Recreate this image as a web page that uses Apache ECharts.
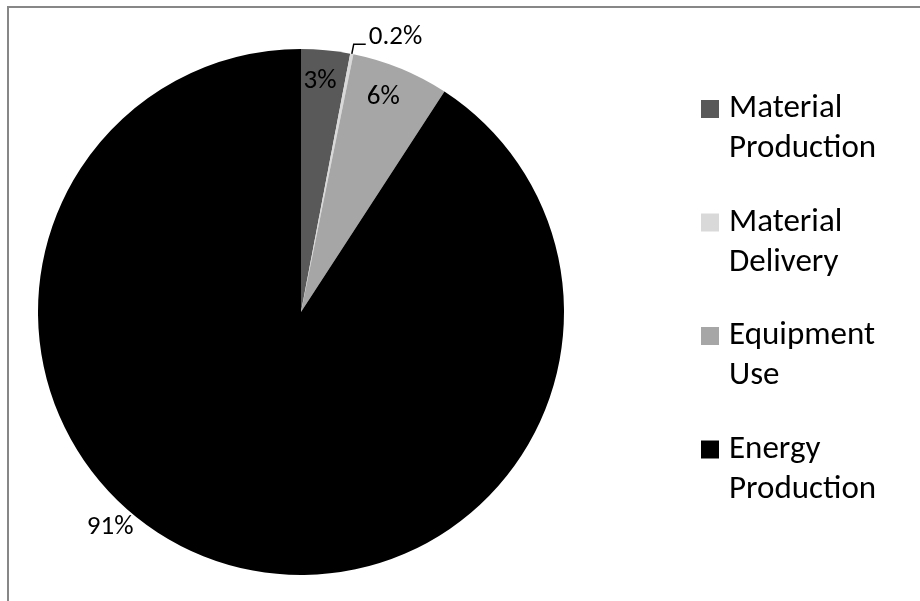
<!DOCTYPE html>
<html>
<head>
<meta charset="utf-8">
<style>
  html, body { margin: 0; padding: 0; background: #ffffff; }
  #chart { width: 920px; height: 601px; }
</style>
<script src="https://cdn.jsdelivr.net/npm/echarts@6/dist/echarts.min.js"></script>
</head>
<body>
<div id="chart"></div>
<script>
// Life-cycle stage shares (percent)
const categories = ['Material Production', 'Material Delivery', 'Equipment Use', 'Energy Production'];
const shares = [3, 0.2, 6, 91];
const sliceColors = ['#595959', '#d9d9d9', '#a6a6a6', '#000000'];

const FONT = 'Carlito, Calibri, Lato, sans-serif';
const CX = 301, CY = 312, R = 263;

// Where each slice label sits: 'outside' uses a leader line,
// otherwise the label is placed at (angle in degrees clockwise from 12 o'clock, radius factor).
const labelPlacement = [
  { mode: 'fixed', angle: 4.7, radius: 0.881 },
  { mode: 'outside' },
  { mode: 'fixed', angle: 21.0, radius: 0.873 },
  { mode: 'fixed', angle: 221.5, radius: 1.095 }
];

const chart = echarts.init(document.getElementById('chart'));

chart.setOption({
  backgroundColor: '#ffffff',
  animation: false,
  graphic: [{
    type: 'rect',
    shape: { x: 8, y: 7, width: 1000, height: 1000 },
    style: { fill: 'none', stroke: '#878787', lineWidth: 2 },
    silent: true,
    z: -1
  }],
  legend: {
    orient: 'vertical',
    left: 701,
    top: 49,
    padding: 0,
    itemWidth: 18,
    itemHeight: 18,
    itemGap: -6.5,
    icon: 'rect',
    selectedMode: false,
    data: categories,
    // an empty first line keeps the swatch level with the first word
    formatter: name => '\n' + name.replace(' ', '\n'),
    textStyle: {
      fontFamily: FONT,
      fontSize: 33,
      lineHeight: 40,
      color: '#000000',
      padding: [0, 0, 0, 5]
    }
  },
  series: [{
    type: 'pie',
    center: [CX, CY],
    radius: R,
    startAngle: 90,
    clockwise: true,
    avoidLabelOverlap: false,
    itemStyle: { borderWidth: 0 },
    emphasis: { disabled: true },
    label: {
      show: true,
      formatter: '{c}%',
      fontFamily: FONT,
      fontSize: 27,
      color: '#000000'
    },
    data: categories.map((name, i) => {
      const place = labelPlacement[i];
      const item = {
        name: name,
        value: shares[i],
        itemStyle: { color: sliceColors[i] }
      };
      if (place.mode === 'outside') {
        // trailing empty line lifts the text above the leader line
        item.label = { position: 'outside', distanceToLabelLine: 3,
                       formatter: '{c}%\n', lineHeight: 14 };
        item.labelLine = { show: true, length: 10, length2: 12, smooth: false,
                           lineStyle: { color: '#000000', width: 1.5 } };
      } else {
        item.label = { position: 'inside' };
        item.labelLine = { show: false };
      }
      return item;
    }),
    labelLayout: function (params) {
      const place = labelPlacement[params.dataIndex];
      if (place.mode === 'outside') return {};
      const a = place.angle * Math.PI / 180;
      const rr = R * place.radius;
      return {
        x: CX + rr * Math.sin(a),
        y: CY - rr * Math.cos(a),
        align: 'center',
        verticalAlign: 'middle'
      };
    }
  }]
});
</script>
</body>
</html>
